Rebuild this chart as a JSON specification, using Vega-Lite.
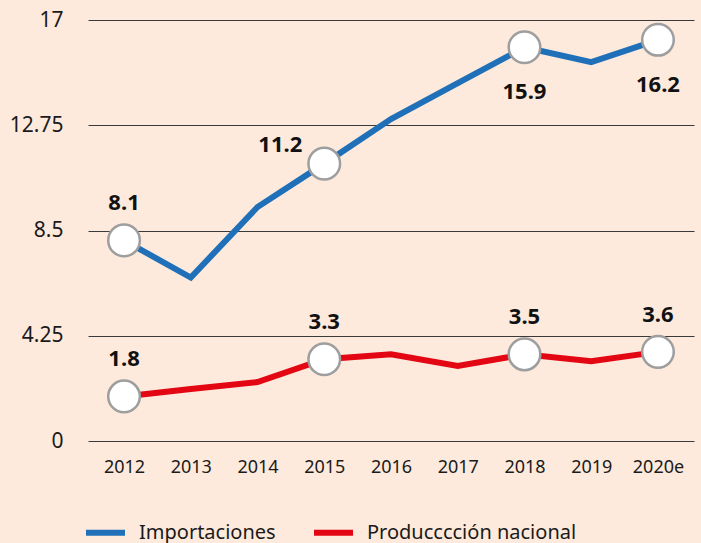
{
  "$schema": "https://vega.github.io/schema/vega-lite/v6.json",
  "width": 606,
  "height": 421,
  "autosize": "none",
  "padding": {"left": 88, "top": 20, "right": 7, "bottom": 102},
  "background": "#fdeadc",
  "config": {
    "view": {"stroke": null},
    "font": "Noto Sans"
  },
  "data": {
    "values": [
      {"year": "2012", "series": "Importaciones", "value": 8.1},
      {"year": "2013", "series": "Importaciones", "value": 6.6},
      {"year": "2014", "series": "Importaciones", "value": 9.45},
      {"year": "2015", "series": "Importaciones", "value": 11.2},
      {"year": "2016", "series": "Importaciones", "value": 13.0},
      {"year": "2017", "series": "Importaciones", "value": 14.45},
      {"year": "2018", "series": "Importaciones", "value": 15.9},
      {"year": "2019", "series": "Importaciones", "value": 15.3},
      {"year": "2020e", "series": "Importaciones", "value": 16.2},
      {"year": "2012", "series": "Producccción nacional", "value": 1.8},
      {"year": "2013", "series": "Producccción nacional", "value": 2.1},
      {"year": "2014", "series": "Producccción nacional", "value": 2.38},
      {"year": "2015", "series": "Producccción nacional", "value": 3.3},
      {"year": "2016", "series": "Producccción nacional", "value": 3.5},
      {"year": "2017", "series": "Producccción nacional", "value": 3.03},
      {"year": "2018", "series": "Producccción nacional", "value": 3.5},
      {"year": "2019", "series": "Producccción nacional", "value": 3.22},
      {"year": "2020e", "series": "Producccción nacional", "value": 3.6}
    ]
  },
  "encoding": {
    "x": {
      "field": "year",
      "type": "ordinal",
      "scale": {"type": "point", "padding": 0.54},
      "axis": {
        "title": null,
        "labelAngle": 0,
        "domain": false,
        "ticks": false,
        "labelPadding": 17,
        "labelFontSize": 18,
        "labelColor": "#1a1a1a",
        "labelFont": "Noto Sans"
      }
    },
    "y": {
      "field": "value",
      "type": "quantitative",
      "scale": {"domain": [0, 17], "nice": false, "zero": true},
      "axis": {
        "title": null,
        "values": [0, 4.25, 8.5, 12.75, 17],
        "format": ".4~g",
        "domain": false,
        "ticks": false,
        "labelPadding": 25,
        "labelFontSize": 21,
        "labelColor": "#1a1a1a",
        "labelFont": "Noto Sans",
        "gridColor": "#3a3a3a",
        "gridWidth": 1,
        "gridOpacity": 1
      }
    }
  },
  "layer": [
    {
      "mark": {"type": "line", "strokeWidth": 6},
      "encoding": {
        "color": {
          "field": "series",
          "type": "nominal",
          "scale": {
            "domain": ["Importaciones", "Producccción nacional"],
            "range": ["#1f70b8", "#e30613"]
          },
          "legend": {
            "title": null,
            "orient": "none",
            "legendX": -5,
            "legendY": 490,
            "direction": "horizontal",
            "symbolType": "stroke",
            "symbolSize": 1521,
            "symbolStrokeWidth": 6,
            "labelFontSize": 20,
            "labelFont": "Noto Sans",
            "labelColor": "#1a1a1a",
            "labelOffset": 11,
            "columnPadding": 26,
            "labelLimit": 400
          }
        }
      }
    },
    {
      "transform": [{"filter": {"field": "year", "oneOf": ["2012", "2015", "2018", "2020e"]}}],
      "mark": {"type": "point", "filled": true, "fill": "white", "stroke": "#9e9e9e", "strokeWidth": 2.5, "size": 1000, "opacity": 1}
    },
    {
      "transform": [
        {"filter": "(datum.series == 'Producccción nacional' && indexof(['2012','2015','2018','2020e'], datum.year) >= 0) || (datum.series == 'Importaciones' && datum.year == '2012')"}
      ],
      "mark": {"type": "text", "fontSize": 22, "fontWeight": "bold", "font": "Noto Sans", "color": "#111", "baseline": "alphabetic", "dy": -30},
      "encoding": {"text": {"field": "value", "type": "quantitative", "format": ".1f"}}
    },
    {
      "transform": [
        {"filter": "datum.series == 'Importaciones' && datum.year == '2015'"}
      ],
      "mark": {"type": "text", "fontSize": 22, "fontWeight": "bold", "font": "Noto Sans", "color": "#111", "baseline": "alphabetic", "dx": -44, "dy": -12},
      "encoding": {"text": {"field": "value", "type": "quantitative", "format": ".1f"}}
    },
    {
      "transform": [
        {"filter": "datum.series == 'Importaciones' && (datum.year == '2018' || datum.year == '2020e')"}
      ],
      "mark": {"type": "text", "fontSize": 22, "fontWeight": "bold", "font": "Noto Sans", "color": "#111", "baseline": "alphabetic", "dy": 52},
      "encoding": {"text": {"field": "value", "type": "quantitative", "format": ".1f"}}
    }
  ]
}
